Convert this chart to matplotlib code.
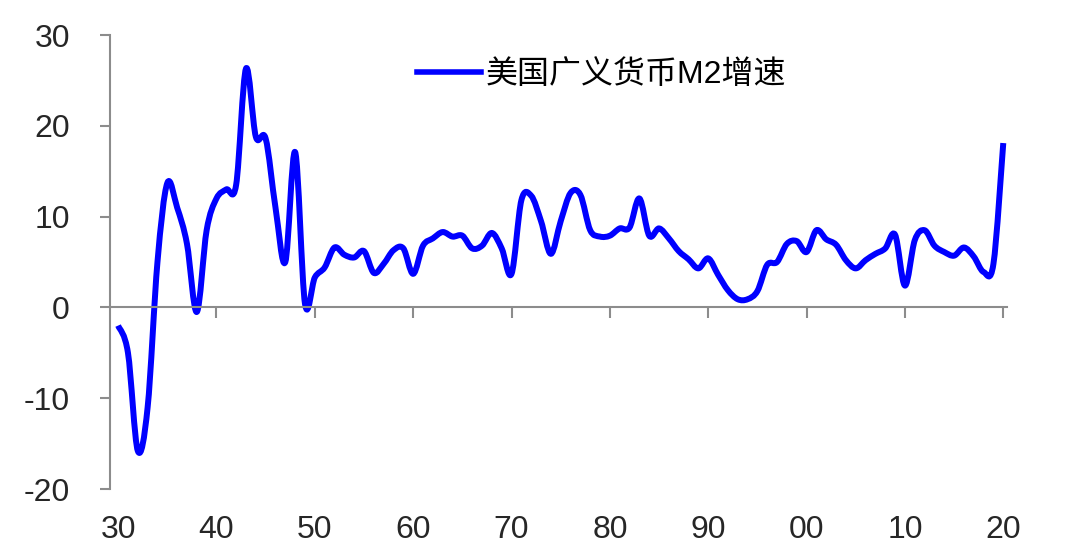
import matplotlib.pyplot as plt
from matplotlib.path import Path
from matplotlib.patches import PathPatch
from matplotlib.lines import Line2D
import matplotlib.transforms as mtransforms

plt.rcParams['font.family'] = ['Liberation Sans', 'Noto Sans CJK SC', 'DejaVu Sans']
plt.rcParams['axes.unicode_minus'] = False

# annual US M2 growth (%)
years = list(range(1930, 2021))
m2_growth = [
    -2.0, -5.0, -15.8, -11.0, 5.0, 13.7, 11.0, 7.0, -0.5, 8.5,      # 1930s
    12.0, 13.0, 13.5, 26.3, 18.8, 18.6, 11.0, 5.0, 17.1, 0.4,       # 1940s
    3.3, 4.4, 6.6, 5.8, 5.5, 6.2, 3.8, 4.8, 6.3, 6.5,               # 1950s
    3.7, 6.8, 7.6, 8.3, 7.8, 7.9, 6.5, 6.8, 8.2, 6.5,               # 1960s
    3.7, 11.8, 12.3, 9.5, 5.9, 9.5, 12.6, 12.4, 8.5, 7.8,           # 1970s
    7.9, 8.7, 8.8, 12.0, 7.9, 8.7, 7.6, 6.2, 5.3, 4.3,              # 1980s
    5.4, 3.6, 1.9, 0.9, 0.9, 1.8, 4.7, 5.0, 7.0, 7.3,               # 1990s
    6.1, 8.5, 7.5, 6.9, 5.2, 4.3, 5.2, 5.9, 6.5, 8.0,               # 2000s
    2.4, 7.4, 8.5, 6.8, 6.1, 5.7, 6.6, 5.6, 3.9, 4.8,               # 2010s
    18.1,                                                           # 2020
]
tick_years = [1930, 1940, 1950, 1960, 1970, 1980, 1990, 2000, 2010, 2020]
tick_labels = ['30', '40', '50', '60', '70', '80', '90', '00', '10', '20']
series_name = '美国广义货币M2增速'

blue = '#0000ff'
grey = '#8c8c8c'


def smooth_path(xs, ys):
    # excel-style smoothed line: bezier segments through every data point
    n = len(xs)
    verts = [(xs[0], ys[0])]
    codes = [Path.MOVETO]
    for i in range(n - 1):
        a = max(i - 1, 0)
        b = min(i + 2, n - 1)
        c1 = (xs[i] + (xs[i + 1] - xs[a]) / 6, ys[i] + (ys[i + 1] - ys[a]) / 6)
        c2 = (xs[i + 1] - (xs[b] - xs[i]) / 6, ys[i + 1] - (ys[b] - ys[i]) / 6)
        verts += [c1, c2, (xs[i + 1], ys[i + 1])]
        codes += [Path.CURVE4] * 3
    return Path(verts, codes)


fig = plt.figure(figsize=(10.8, 5.47), dpi=100)
ax = fig.add_axes([0.102, 0.106, 0.8306, 0.830])

ax.add_patch(PathPatch(smooth_path(years, m2_growth), fill=False, edgecolor=blue,
                       lw=4.3, joinstyle='round', capstyle='butt'))

ax.set_xlim(1929.19, 2020.4)
ax.set_ylim(-20, 30)

for s in ['top', 'right']:
    ax.spines[s].set_visible(False)
ax.spines['left'].set_color(grey)
ax.spines['left'].set_linewidth(1.5)
ax.spines['bottom'].set_position(('data', 0))
ax.spines['bottom'].set_color(grey)
ax.spines['bottom'].set_linewidth(1.5)

ax.set_yticks(range(-20, 31, 10))
ax.tick_params(axis='y', direction='out', length=7, width=1.5, color=grey,
               labelsize=23, pad=22, labelcolor='#262626')
ax.set_xticks(tick_years[1:])
ax.tick_params(axis='x', direction='out', length=8, width=1.5, color=grey,
               labelbottom=False)

# year labels sit under the plot, not on the zero line
trans = mtransforms.blended_transform_factory(ax.transData, ax.transAxes)
for yr, lab in zip(tick_years, tick_labels):
    ax.text(yr, -0.09, lab, transform=trans, ha='center', va='center',
            fontsize=23, color='#262626')

ax.legend(handles=[Line2D([], [], color=blue, lw=4)], labels=[series_name],
          frameon=False, loc='center left', bbox_to_anchor=(0.342, 0.912),
          fontsize=23, handlelength=2.0, handletextpad=0.15, borderpad=0,
          borderaxespad=0)

fig.savefig('out.png', dpi=100)
